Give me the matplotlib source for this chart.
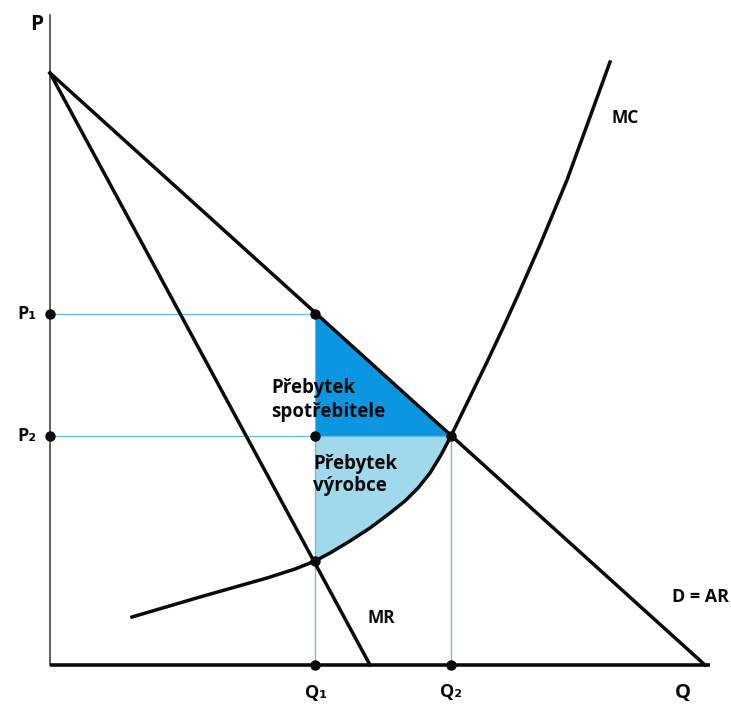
import matplotlib
matplotlib.use('Agg')
import matplotlib.pyplot as plt

# data units: quantity to the right, price upwards (origin at the axes corner)
D_P0, D_Q0 = 592, 655          # demand D = AR: price intercept, quantity intercept
MR_Q0 = 320                    # MR quantity intercept (same price intercept)
Q1, P1 = 265, 351
Q2, P2 = 401, 229
MC_AT_Q1 = 104
MC_Q = [82, 150, 217, 245, 265, 280, 300, 320, 340, 355, 368, 380, 391, 401, 420, 437, 453, 468, 490, 517, 540, 560]
MC_P = [48, 68, 87, 96, 104, 112, 124, 137, 152, 164, 177, 192, 210, 229, 268, 303, 337, 370, 420, 485, 548, 603]

INK = '#0b0b0b'
GUIDE = '#62bade'
CS_BLUE = '#0a96e0'
PS_BLUE = '#a0d9ec'
FONT = ['Open Sans', 'DejaVu Sans']


def mc_section(q_lo, q_hi):
    return [(q, p) for q, p in zip(MC_Q, MC_P) if q_lo <= q <= q_hi]


fig = plt.figure(figsize=(7.31, 7.06), dpi=100)
ax = fig.add_axes([0, 0, 1, 1])
ax.set_xlim(-50, 681)
ax.set_ylim(-41, 665)
ax.axis('off')

# surplus areas
ax.fill([Q1, Q1, Q2], [P1, P2, P2], color=CS_BLUE, lw=0, zorder=1)
ps = [(Q1, P2)] + mc_section(Q1, Q2)
ax.fill([q for q, p in ps], [p for q, p in ps], color=PS_BLUE, lw=0, zorder=1)

# guide lines
ax.plot([0, Q1], [P1, P1], color=GUIDE, lw=0.9, zorder=2)
ax.plot([0, Q2], [P2, P2], color=GUIDE, lw=0.9, zorder=2)
ax.plot([Q1, Q1], [0, P1], color=GUIDE, lw=0.9, zorder=2)
ax.plot([Q2, Q2], [0, P2], color=GUIDE, lw=0.9, zorder=2)

# axes
ax.plot([0, 0], [0, 650], color='#444444', lw=1.2, zorder=3)
ax.plot([0, 660], [0, 0], color=INK, lw=2.6, zorder=3, solid_capstyle='butt')

# curves
ax.plot([0, D_Q0], [D_P0, 0], color=INK, lw=2.5, zorder=4)
ax.plot([0, MR_Q0], [D_P0, 0], color=INK, lw=2.5, zorder=4)
ax.plot(MC_Q, MC_P, color=INK, lw=2.5, zorder=4, solid_joinstyle='round')

# points
px = [0, 0, Q1, Q1, Q1, Q2, Q1, Q2]
py = [P1, P2, P1, P2, MC_AT_Q1, P2, 0, 0]
ax.plot(px, py, 'o', color=INK, ms=6.5, zorder=5)

txt = dict(color=INK, fontweight='bold', family=FONT)
ax.text(-13, 640, 'P', fontsize=15, ha='center', va='center', **txt)
ax.text(-23, P1, 'P₁', fontsize=13, ha='center', va='center', **txt)
ax.text(-23, P2, 'P₂', fontsize=13, ha='center', va='center', **txt)
ax.text(Q1 + 1, -28, 'Q₁', fontsize=13, ha='center', va='center', **txt)
ax.text(Q2, -27, 'Q₂', fontsize=13, ha='center', va='center', **txt)
ax.text(633, -28, 'Q', fontsize=14.5, ha='center', va='center', **txt)
ax.text(575, 547, 'MC', fontsize=12.5, ha='center', va='center', **txt)
ax.text(331, 47, 'MR', fontsize=12.5, ha='center', va='center', **txt)
ax.text(651, 68, 'D = AR', fontsize=13, ha='center', va='center', **txt)
ax.text(221, 265, 'Přebytek\nspotřebitele', fontsize=13.5, ha='left', va='center',
        linespacing=1.2, **txt)
ax.text(263, 190, 'Přebytek\nvýrobce', fontsize=13.5, ha='left', va='center',
        linespacing=1.2, **txt)

fig.savefig('out.png', dpi=100, facecolor='white')
